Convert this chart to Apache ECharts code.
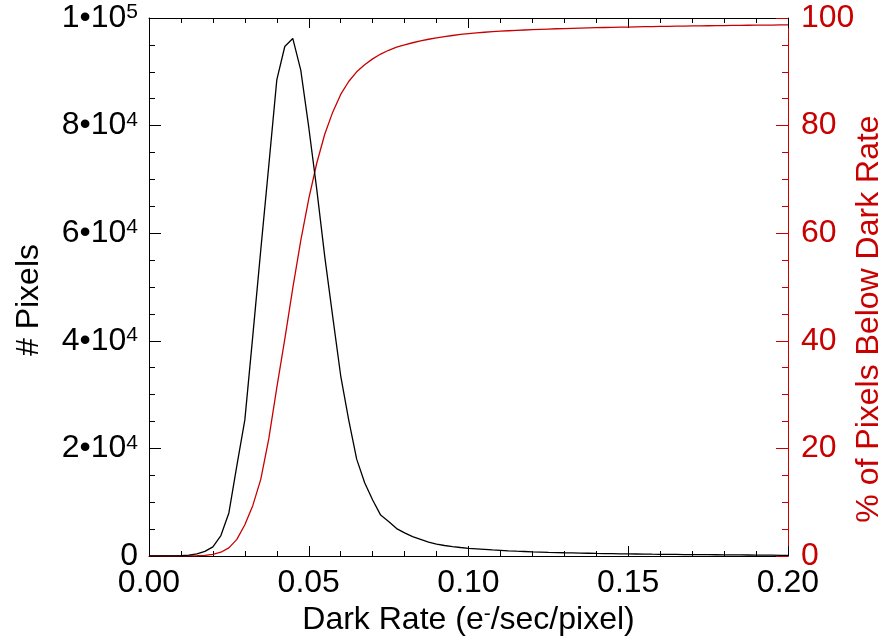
<!DOCTYPE html>
<html>
<head>
<meta charset="utf-8">
<script src="https://cdn.jsdelivr.net/npm/echarts@6/dist/echarts.min.js"></script>
<style>
html,body{margin:0;padding:0;background:#fff;}
#chart{width:886px;height:641px;}
</style>
</head>
<body>
<div id="chart"></div>
<script>
// Dark rate bins (e-/sec/pixel)
const darkRate = [
  0.0000,0.0025,0.0050,0.0075,0.0100,0.0125,0.0150,0.0175,0.0200,0.0225,
  0.0250,0.0275,0.0300,0.0325,0.0350,0.0375,0.0400,0.0425,0.0450,0.0475,
  0.0500,0.0525,0.0550,0.0575,0.0600,0.0625,0.0650,0.0675,0.0700,0.0725,
  0.0750,0.0775,0.0800,0.0825,0.0850,0.0875,0.0900,0.0925,0.0950,0.0975,
  0.1000,0.1025,0.1050,0.1075,0.1100,0.1125,0.1150,0.1175,0.1200,0.1225,
  0.1250,0.1275,0.1300,0.1325,0.1350,0.1375,0.1400,0.1425,0.1450,0.1475,
  0.1500,0.1525,0.1550,0.1575,0.1600,0.1625,0.1650,0.1675,0.1700,0.1725,
  0.1750,0.1775,0.1800,0.1825,0.1850,0.1875,0.1900,0.1925,0.1950,0.1975,
  0.2000
];
// Number of pixels per bin
const pixelCounts = [
  0,0,5,20,60,150,400,850,1700,3800,
  8000,16800,25300,41000,57000,72600,88500,94700,96200,90300,
  79700,68200,55700,44500,33500,25300,18000,13600,10400,7600,
  6400,5100,4300,3600,3100,2600,2200,1950,1750,1580,
  1430,1330,1230,1130,1050,970,900,840,780,730,
  680,640,600,570,540,510,480,460,440,410,
  390,370,350,330,320,300,290,270,260,250,
  240,230,220,210,200,190,170,160,150,130,
  120
];
// Cumulative % of pixels below dark rate
const cumulativePct = [
  0,0,0,0,0.01,0.02,0.05,0.12,0.3,0.7,
  1.5,3.1,5.8,9.4,14.3,21.8,31.3,40.3,49.8,58.6,
  66.4,73.0,78.4,82.5,85.8,88.2,90.0,91.3,92.4,93.3,
  94.0,94.6,95.0,95.4,95.75,96.05,96.3,96.55,96.75,96.95,
  97.1,97.25,97.35,97.45,97.55,97.63,97.7,97.77,97.84,97.9,
  97.95,98.0,98.04,98.08,98.12,98.16,98.2,98.23,98.26,98.29,
  98.32,98.35,98.38,98.41,98.44,98.46,98.48,98.5,98.52,98.54,
  98.56,98.58,98.6,98.62,98.63,98.65,98.66,98.68,98.69,98.71,
  98.72
];
// Tick labels
const xTickLabels = ['0.00','0.05','0.10','0.15','0.20'];
const leftTickMantissa = ['0','2\u202210','4\u202210','6\u202210','8\u202210','1\u202210'];
const leftTickExponent = ['','4','4','4','4','5'];
const rightTickLabels = ['0','20','40','60','80','100'];

const RED = '#c80000';
const FONT = '"Liberation Sans", Arial, Helvetica, sans-serif';
const FS = 32;
const FSUP = 21;

const chart = echarts.init(document.getElementById('chart'), null, {renderer: 'canvas'});
const countPairs = darkRate.map((x, i) => [x, pixelCounts[i]]);
const pctPairs = darkRate.map((x, i) => [x, cumulativePct[i]]);

const option = {
  animation: false,
  backgroundColor: '#fff',
  grid: {left: 149, right: 98, top: 18, bottom: 85, containLabel: false, outerBoundsMode: 'none'},
  xAxis: [{
    type: 'value', min: 0, max: 0.2, interval: 0.05, position: 'bottom',
    name: '{a|Dark Rate (e}{s|-}{a|/sec/pixel)}',
    nameLocation: 'middle', nameGap: 48, nameMoveOverlap: false,
    nameTextStyle: {
      rich: {
        a: {fontFamily: FONT, fontSize: FS, color: '#000'},
        s: {fontFamily: FONT, fontSize: FSUP, color: '#000', verticalAlign: 'top'}
      }
    },
    axisLine: {show: true, onZero: false, lineStyle: {color: '#000', width: 1}},
    axisTick: {show: true, inside: true, length: 10, lineStyle: {color: '#000'}},
    minorTick: {show: true, splitNumber: 5, length: 5, lineStyle: {color: '#000'}},
    splitLine: {show: false},
    axisLabel: {
      fontFamily: FONT, fontSize: FS, color: '#000', margin: 11,
      formatter: (v) => xTickLabels[Math.round(v / 0.05)]
    }
  }, {
    type: 'value', min: 0, max: 0.2, interval: 0.05, position: 'top',
    axisLine: {show: true, onZero: false, lineStyle: {color: '#000', width: 1}},
    axisTick: {show: true, inside: true, length: 10, lineStyle: {color: '#000'}},
    minorTick: {show: true, splitNumber: 5, length: 5, lineStyle: {color: '#000'}},
    splitLine: {show: false},
    axisLabel: {show: false}
  }],
  yAxis: [{
    type: 'value', min: 0, max: 100000, interval: 20000, position: 'left',
    name: '# Pixels', nameLocation: 'middle', nameGap: 104, nameMoveOverlap: false,
    nameTextStyle: {fontFamily: FONT, fontSize: FS, color: '#000', padding: [0, 26, 0, 0]},
    axisLine: {show: true, onZero: false, lineStyle: {color: '#000', width: 1}},
    axisTick: {show: true, inside: true, length: 12, lineStyle: {color: '#000'}},
    minorTick: {show: true, splitNumber: 4, length: 6, lineStyle: {color: '#000'}},
    splitLine: {show: false},
    axisLabel: {
      margin: 11,
      formatter: (v) => {
        const i = Math.round(v / 20000);
        return leftTickExponent[i] ? '{n|' + leftTickMantissa[i] + '}{s|' + leftTickExponent[i] + '}' : '{n|' + leftTickMantissa[i] + '}';
      },
      rich: {
        n: {fontFamily: FONT, fontSize: FS, color: '#000'},
        s: {fontFamily: FONT, fontSize: FSUP, color: '#000', verticalAlign: 'top'}
      }
    }
  }, {
    type: 'value', min: 0, max: 100, interval: 20, position: 'right',
    name: '% of Pixels Below Dark Rate', nameLocation: 'middle', nameGap: 65, nameMoveOverlap: false,
    nameTextStyle: {fontFamily: FONT, fontSize: FS, color: RED, padding: [0, 64, 0, 0]},
    axisLine: {show: true, onZero: false, lineStyle: {color: RED, width: 1}},
    axisTick: {show: true, inside: true, length: 12, lineStyle: {color: RED}},
    minorTick: {show: true, splitNumber: 4, length: 6, lineStyle: {color: RED}},
    splitLine: {show: false},
    axisLabel: {
      fontFamily: FONT, fontSize: FS, color: RED, margin: 13,
      formatter: (v) => rightTickLabels[Math.round(v / 20)]
    }
  }],
  series: [{
    name: '# Pixels', type: 'line', xAxisIndex: 0, yAxisIndex: 0,
    data: countPairs, showSymbol: false, smooth: false,
    lineStyle: {color: '#000', width: 1.3}, z: 3
  }, {
    name: '% below', type: 'line', xAxisIndex: 0, yAxisIndex: 1,
    data: pctPairs, showSymbol: false, smooth: false,
    lineStyle: {color: RED, width: 1.3}, z: 2
  }]
};
chart.setOption(option);
</script>
</body>
</html>
